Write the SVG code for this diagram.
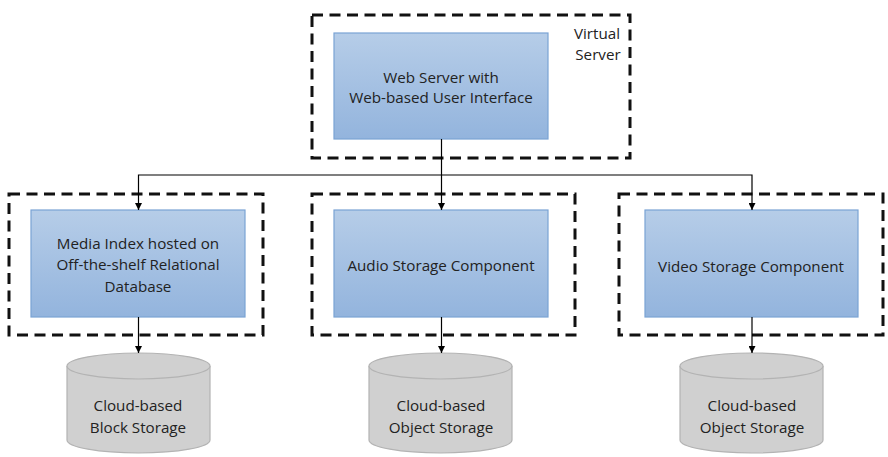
<svg xmlns="http://www.w3.org/2000/svg" width="888" height="457" viewBox="0 0 888 457">
<defs>
<linearGradient id="bg" x1="0" y1="0" x2="0" y2="1">
<stop offset="0" stop-color="#b6cde8"/>
<stop offset="1" stop-color="#93b4dd"/>
</linearGradient>
<marker id="ah" viewBox="0 0 10 10" refX="10" refY="5" markerWidth="7" markerHeight="7" markerUnits="userSpaceOnUse" orient="auto">
<path d="M0,0 L10,5 L0,10 z" fill="#000"/>
</marker>
<style>
.dash{fill:none;stroke:#111;stroke-width:3;stroke-dasharray:11 6.5}
.box{fill:url(#bg);stroke:#7aa3d4;stroke-width:1.2}
.cyl{fill:#d0d0d0;stroke:#b3b3b3;stroke-width:1.2}
.t{font-family:"Open Sans","Liberation Sans",sans-serif;font-size:15.2px;fill:#222;text-anchor:middle;dominant-baseline:central}
.ln{fill:none;stroke:#000;stroke-width:1.2}
</style>
</defs>
<g id="virtual-server">
<rect class="dash" x="312" y="15" width="318" height="143"/>
<text class="t" x="597" y="33">Virtual</text>
<text class="t" x="598" y="54">Server</text>
</g>
<g id="web-server">
<rect class="box" x="334" y="33" width="214" height="106"/>
<text class="t" x="441" y="77">Web Server with</text>
<text class="t" x="441" y="97">Web-based User Interface</text>
</g>
<g id="group-left"><rect class="dash" x="9" y="194" width="254" height="141"/></g>
<g id="group-mid"><rect class="dash" x="312" y="194" width="263" height="141"/></g>
<g id="group-right"><rect class="dash" x="619" y="194" width="264" height="141"/></g>
<g id="media-index">
<rect class="box" x="31" y="210" width="214" height="107"/>
<text class="t" x="138" y="243">Media Index hosted on</text>
<text class="t" x="138" y="264">Off-the-shelf Relational</text>
<text class="t" x="138" y="286">Database</text>
</g>
<g id="audio">
<rect class="box" x="334" y="210" width="214" height="107"/>
<text class="t" x="441" y="265">Audio Storage Component</text>
</g>
<g id="video">
<rect class="box" x="645" y="210" width="213" height="107"/>
<text class="t" x="751" y="266">Video Storage Component</text>
</g>
<g id="block-storage">
<path class="cyl" d="M67,366 A71.5,13 0 0 1 210,366 L210,440 A71.5,13 0 0 1 67,440 Z"/>
<path class="cyl" d="M67,366 A71.5,13 0 0 0 210,366" fill="none"/>
<text class="t" x="138" y="405">Cloud-based</text>
<text class="t" x="138" y="427">Block Storage</text>
</g>
<g id="audio-storage">
<path class="cyl" d="M369,366 A71.5,13 0 0 1 512,366 L512,440 A71.5,13 0 0 1 369,440 Z"/>
<path class="cyl" d="M369,366 A71.5,13 0 0 0 512,366" fill="none"/>
<text class="t" x="441" y="405">Cloud-based</text>
<text class="t" x="441" y="427">Object Storage</text>
</g>
<g id="video-storage">
<path class="cyl" d="M680,366 A71.5,13 0 0 1 823,366 L823,440 A71.5,13 0 0 1 680,440 Z"/>
<path class="cyl" d="M680,366 A71.5,13 0 0 0 823,366" fill="none"/>
<text class="t" x="752" y="405">Cloud-based</text>
<text class="t" x="752" y="427">Object Storage</text>
</g>
<g id="connectors">
<path class="ln" d="M441.5,139 L441.5,175"/>
<path class="ln" d="M441.5,175 L138.5,175 L138.5,210" marker-end="url(#ah)"/>
<path class="ln" d="M441.5,175 L441.5,210" marker-end="url(#ah)"/>
<path class="ln" d="M441.5,175 L752,175 L752,210" marker-end="url(#ah)"/>
<path class="ln" d="M138.5,317 L138.5,353" marker-end="url(#ah)"/>
<path class="ln" d="M441.5,317 L441.5,353" marker-end="url(#ah)"/>
<path class="ln" d="M752,317 L752,353" marker-end="url(#ah)"/>
</g>
</svg>
